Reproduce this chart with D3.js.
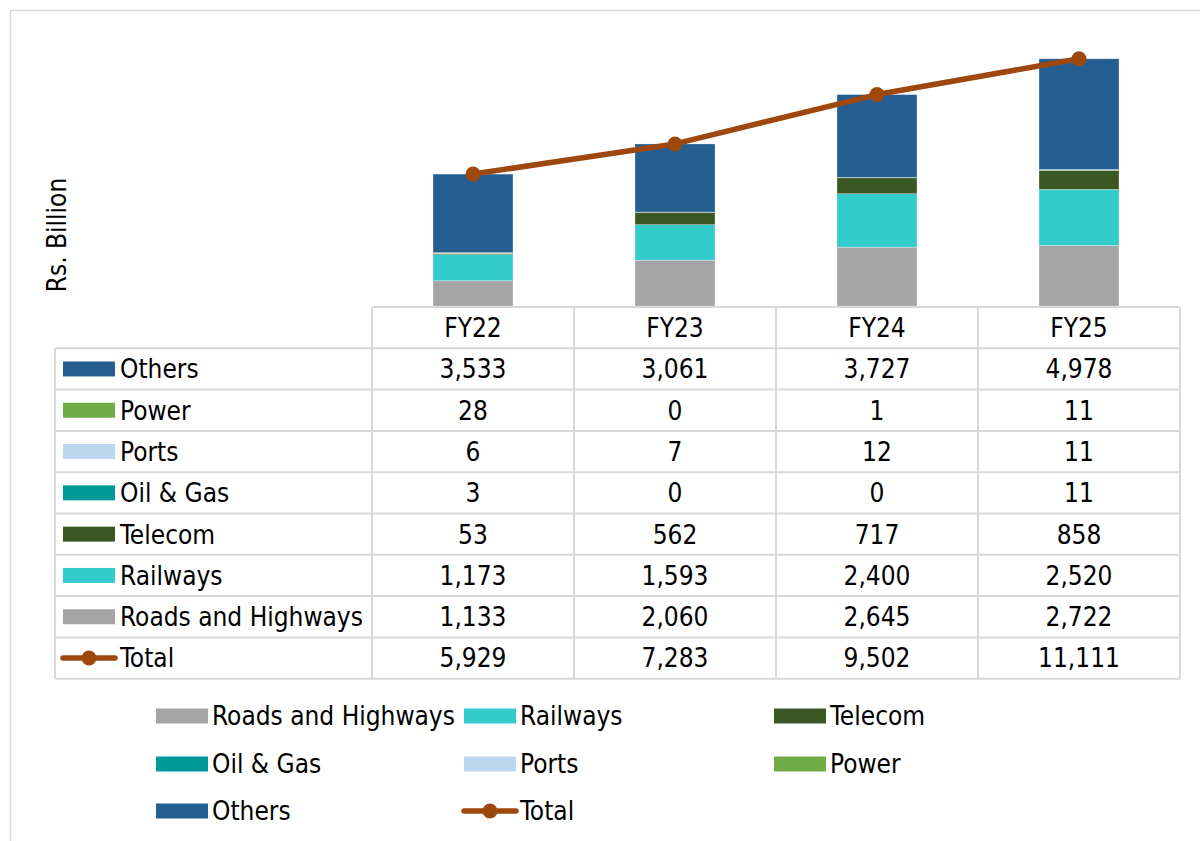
<!DOCTYPE html>
<html><head><meta charset="utf-8">
<script src="https://cdn.jsdelivr.net/npm/d3@7"></script>
<style>body{margin:0;background:#fff}svg{display:block}text{font-family:"DejaVu Sans Condensed","DejaVu Sans",sans-serif;fill:#000}</style>
</head><body>
<svg id="c" width="1200" height="841"></svg>
<script>
const years = ["FY22","FY23","FY24","FY25"];
const seriesNames = ["Roads and Highways","Railways","Telecom","Oil & Gas","Ports","Power","Others"];
const roads = [1133,2060,2645,2722];
const railways = [1173,1593,2400,2520];
const telecom = [53,562,717,858];
const oilGas = [3,0,0,11];
const ports = [6,7,12,11];
const power = [28,0,1,11];
const others = [3533,3061,3727,4978];
const total = [5929,7283,9502,11111];
const colors = ["#A5A5A5","#33CCCC","#3A5724","#009999","#BDD7EE","#70AD47","#255E91"];
const lineColor = "#9E480E";
const tableOrder = ["Others","Power","Ports","Oil & Gas","Telecom","Railways","Roads and Highways"];
const values = [roads,railways,telecom,oilGas,ports,power,others];

const svg = d3.select("#c");
const fmt = d3.format(",");
const FS = 26;
// outer frame
svg.append("rect").attr("x",10.5).attr("y",10.5).attr("width",1250).attr("height",900)
  .attr("fill","none").attr("stroke","#D9D9D9").attr("stroke-width",1.5);

const x = d3.scaleBand().domain(years).range([372,1180]).paddingInner(0).paddingOuter(0);
const y = d3.scaleLinear().domain([0,12000]).range([306,39]);
const bw = 80;

const rows = years.map((yr,i)=>{const o={year:yr}; seriesNames.forEach((s,k)=>o[s]=values[k][i]); return o;});
const stack = d3.stack().keys(seriesNames)(rows);
const g = svg.append("g");
stack.forEach((layer,k)=>{
  g.selectAll(null).data(layer).enter().append("rect")
   .attr("x",d=>x(d.data.year)+x.bandwidth()/2-bw/2)
   .attr("width",bw)
   .attr("y",d=>y(d[1]))
   .attr("height",d=>Math.max(0,y(d[0])-y(d[1])))
   .attr("fill",colors[k])
   .attr("stroke","#fff").attr("stroke-opacity",0.5).attr("stroke-width",0.6);
});
// total line
const line = d3.line().x((d,i)=>x(years[i])+x.bandwidth()/2).y(d=>y(d));
svg.append("path").datum(total).attr("d",line).attr("fill","none").attr("stroke",lineColor).attr("stroke-width",5.5).attr("stroke-linejoin","round");
svg.selectAll(null).data(total).enter().append("circle")
  .attr("cx",(d,i)=>x(years[i])+x.bandwidth()/2).attr("cy",d=>y(d)).attr("r",7.5).attr("fill",lineColor);

// y label
svg.append("text").attr("transform","translate(66,235) rotate(-90)").attr("text-anchor","middle")
  .attr("font-size",FS).text("Rs. Billion");

// data table
const tg = svg.append("g");
const rowH = 41.3, top0 = 307, labelX0 = 55;
const gridC = "#D9D9D9";
const nRows = tableOrder.length + 1;
const tableBottom = top0 + rowH*(nRows+1);
tg.append("line").attr("x1",372).attr("x2",1180).attr("y1",top0).attr("y2",top0).attr("stroke",gridC).attr("stroke-width",2);
for(let r=1;r<=nRows+1;r++){
  const yy = top0 + rowH*r;
  tg.append("line").attr("x1",labelX0).attr("x2",1180).attr("y1",yy).attr("y2",yy).attr("stroke",gridC).attr("stroke-width",2);
}
tg.append("line").attr("x1",labelX0).attr("x2",labelX0).attr("y1",top0+rowH).attr("y2",tableBottom).attr("stroke",gridC).attr("stroke-width",2);
years.forEach(yr=>{
  tg.append("line").attr("x1",x(yr)).attr("x2",x(yr)).attr("y1",top0).attr("y2",tableBottom).attr("stroke",gridC).attr("stroke-width",2);
});
tg.append("line").attr("x1",1180).attr("x2",1180).attr("y1",top0).attr("y2",tableBottom).attr("stroke",gridC).attr("stroke-width",2);
years.forEach(yr=>{
  tg.append("text").attr("x",x(yr)+x.bandwidth()/2).attr("y",top0+rowH/2).attr("dy","0.36em")
    .attr("text-anchor","middle").attr("font-size",FS).text(yr);
});
function swatch(gsel, name, sx, cy){
  if(name==="Total"){
    gsel.append("line").attr("x1",sx).attr("x2",sx+52).attr("y1",cy).attr("y2",cy).attr("stroke",lineColor).attr("stroke-width",5.5).attr("stroke-linecap","round");
    gsel.append("circle").attr("cx",sx+26).attr("cy",cy).attr("r",7.5).attr("fill",lineColor);
  } else {
    gsel.append("rect").attr("x",sx).attr("y",cy-7.5).attr("width",52).attr("height",15).attr("fill",colors[seriesNames.indexOf(name)]);
  }
}
const tableRows = tableOrder.concat(["Total"]);
tableRows.forEach((name,r)=>{
  const cy = top0 + rowH*(r+1) + rowH/2;
  swatch(tg,name,63,cy);
  tg.append("text").attr("x",120).attr("y",cy).attr("dy","0.36em").attr("font-size",FS).text(name);
  const vals = name==="Total" ? total : values[seriesNames.indexOf(name)];
  vals.forEach((v,i)=>{
    tg.append("text").attr("x",x(years[i])+x.bandwidth()/2).attr("y",cy).attr("dy","0.36em")
      .attr("text-anchor","middle").attr("font-size",FS).text(fmt(v));
  });
});

// legend
const legendItems = ["Roads and Highways","Railways","Telecom","Oil & Gas","Ports","Power","Others","Total"];
const legX = [156,464,774], legY = [716,764,811];
const lg = svg.append("g");
legendItems.forEach((name,i)=>{
  const c = i%3, r = Math.floor(i/3);
  swatch(lg,name,legX[c],legY[r]);
  lg.append("text").attr("x",legX[c]+56).attr("y",legY[r]).attr("dy","0.36em").attr("font-size",FS).text(name);
});
</script>
</body></html>
